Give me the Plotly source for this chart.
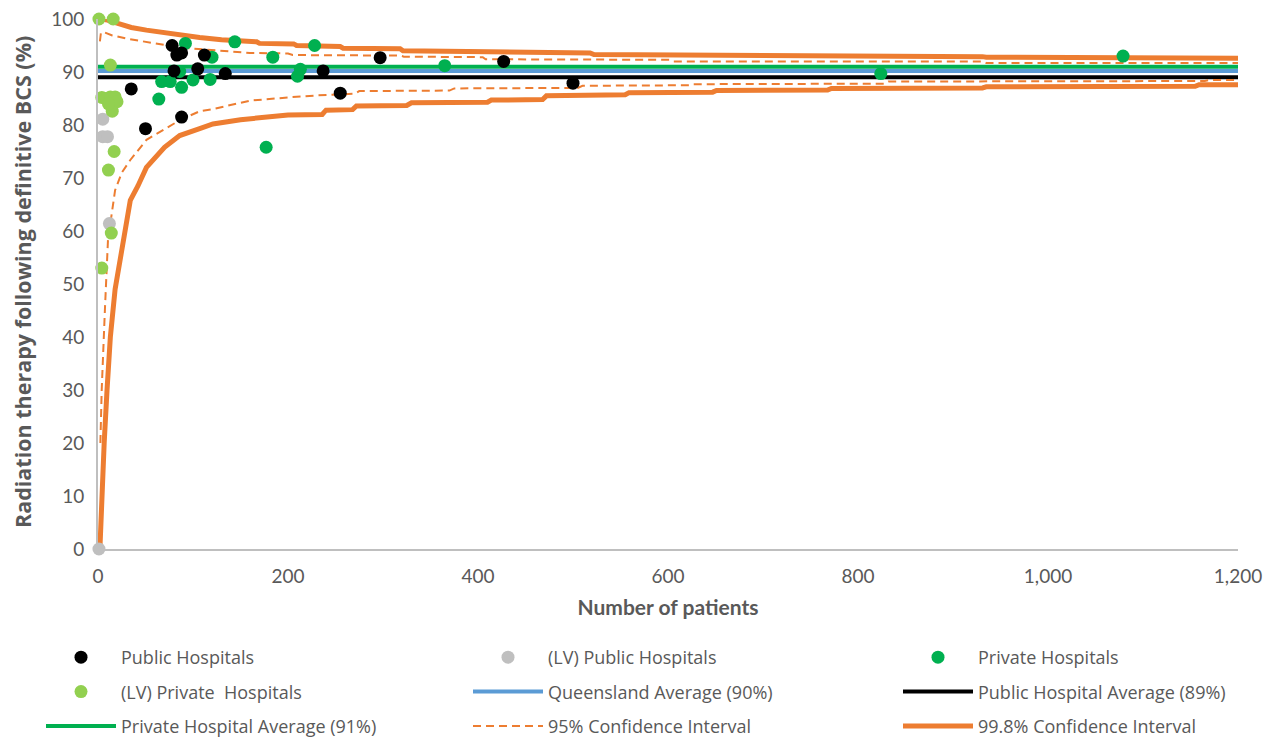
import plotly.graph_objects as go

# ---------------- data ----------------
public_n = [35, 50, 78, 83, 88, 80, 88, 105, 112, 134, 237, 255, 297, 427, 500]
public_v = [86.8, 79.3, 95.0, 93.2, 93.6, 90.2, 81.5, 90.6, 93.2, 89.7, 90.2, 86.0, 92.7, 92.0, 87.9]

lv_public_n = [1, 5, 5, 10, 12]
lv_public_v = [0.0, 81.1, 77.8, 77.8, 61.4]

private_n = [64, 67, 76, 86, 88, 92, 100, 118, 120, 144, 177, 184, 210, 213, 228, 365, 824, 1079]
private_v = [84.9, 88.2, 88.2, 90.1, 87.1, 95.4, 88.5, 88.6, 92.8, 95.7, 75.8, 92.8, 89.2, 90.5, 95.0, 91.2, 89.7, 93.0]

lv_private_n = [1, 16, 13, 4, 9, 13, 18, 20, 15, 11, 17, 11, 14, 4]
lv_private_v = [100, 100, 91.3, 85.2, 85.0, 85.3, 85.3, 84.4, 82.6, 84.0, 75.0, 71.5, 59.6, 53.0]

avg_n = [0, 1200]
qld_avg = [90.2, 90.2]
public_avg = [89.0, 89.0]
private_avg = [91.0, 91.0]

ci95_upper_n = [2, 3, 5, 15, 30, 51, 70, 86, 100, 118, 139, 160, 200, 205, 318, 322, 405, 408, 602, 606, 931, 935, 1200]
ci95_upper_v = [95.8, 97.3, 97.6, 96.9, 96.3, 95.6, 95.1, 94.6, 94.4, 94.2, 93.9, 93.6, 93.5, 93.2, 93.1, 92.9, 92.8, 92.4, 92.3, 92.0, 92.0, 91.7, 91.7]
ci95_lower_n = [2.5, 3.9, 7.4, 10.5, 18, 25, 34, 51, 86, 107, 121, 160, 200, 232, 270, 275, 370, 375, 505, 510, 623, 627, 828, 832, 1165, 1170, 1200]
ci95_lower_v = [20, 30, 45.7, 58.3, 67.7, 71.0, 73.4, 77.2, 80.9, 82.6, 83.0, 84.6, 85.2, 85.6, 85.9, 86.4, 86.5, 86.9, 87.0, 87.4, 87.5, 87.7, 87.8, 88.2, 88.3, 88.5, 88.5]

ci998_upper_n = [2, 10, 20, 35, 51, 70, 86, 107, 130, 150, 167, 170, 206, 209, 255, 258, 318, 321, 405, 408, 518, 522, 686, 690, 931, 935, 1081, 1085, 1200]
ci998_upper_v = [100, 99.8, 99.2, 98.4, 97.9, 97.4, 97.0, 96.5, 96.1, 95.8, 95.7, 95.4, 95.3, 95.0, 94.8, 94.5, 94.4, 94.0, 93.9, 93.7, 93.6, 93.3, 93.2, 93.0, 92.9, 92.8, 92.7, 92.6, 92.6]
ci998_lower_n = [2, 3, 4, 6.5, 9.5, 13, 18, 25, 34, 42, 51, 70, 86, 107, 121, 150, 177, 200, 236, 240, 268, 272, 325, 330, 410, 414, 468, 472, 555, 559, 647, 651, 768, 772, 931, 935, 1155, 1159, 1200]
ci998_lower_v = [0, 5, 11, 20, 30, 40, 49, 57, 65.8, 68.5, 72.0, 75.8, 78.0, 79.3, 80.2, 81.0, 81.5, 81.9, 82.0, 82.8, 82.9, 83.6, 83.7, 84.2, 84.3, 84.7, 84.8, 85.5, 85.7, 86.1, 86.2, 86.5, 86.6, 86.9, 87.0, 87.2, 87.3, 87.6, 87.6]

x_ticks = [0, 200, 400, 600, 800, 1000, 1200]
x_tick_labels = ["0", "200", "400", "600", "800", "1,000", "1,200"]
y_ticks = [0, 10, 20, 30, 40, 50, 60, 70, 80, 90, 100]

y_title = "Radiation therapy following definitive BCS (%)"
x_title = "Number of patients"

# ---------------- styling ----------------
ORANGE = "#ED7D31"
TXT = "#595959"
FONT = "Lato"
LFONT = "Open Sans"
MS = 13

fig = go.Figure()

# lines (drawn first, under the points)
fig.add_trace(go.Scatter(x=avg_n, y=qld_avg, mode="lines", name="Queensland Average (90%)",
                         line=dict(color="#5B9BD5", width=4), legend="legend2",
                         legendgroup="qld", legendrank=2))
fig.add_trace(go.Scatter(x=avg_n, y=public_avg, mode="lines", name="Public Hospital Average (89%)",
                         line=dict(color="#000000", width=4), legend="legend3",
                         legendgroup="pubavg", legendrank=2))
fig.add_trace(go.Scatter(x=avg_n, y=private_avg, mode="lines", name="Private Hospital Average (91%)",
                         line=dict(color="#00B050", width=4), legend="legend",
                         legendgroup="privavg", legendrank=3))
fig.add_trace(go.Scatter(x=ci95_upper_n, y=ci95_upper_v, mode="lines", name="95% Confidence Interval",
                         line=dict(color=ORANGE, width=2, dash="8px,5px"), legend="legend2",
                         legendgroup="ci95", legendrank=3))
fig.add_trace(go.Scatter(x=ci95_lower_n, y=ci95_lower_v, mode="lines", name="95% Confidence Interval",
                         line=dict(color=ORANGE, width=2, dash="8px,5px"), legend="legend2",
                         legendgroup="ci95", showlegend=False))
fig.add_trace(go.Scatter(x=ci998_upper_n, y=ci998_upper_v, mode="lines", name="99.8% Confidence Interval",
                         line=dict(color=ORANGE, width=5), legend="legend3",
                         legendgroup="ci998", legendrank=3))
fig.add_trace(go.Scatter(x=ci998_lower_n, y=ci998_lower_v, mode="lines", name="99.8% Confidence Interval",
                         line=dict(color=ORANGE, width=5), legend="legend3",
                         legendgroup="ci998", showlegend=False))

# points
fig.add_trace(go.Scatter(x=lv_public_n, y=lv_public_v, mode="markers", name="(LV) Public Hospitals",
                         marker=dict(color="#BFBFBF", size=MS), cliponaxis=False,
                         legend="legend2", legendgroup="lvpub", legendrank=1))
fig.add_trace(go.Scatter(x=private_n, y=private_v, mode="markers", name="Private Hospitals",
                         marker=dict(color="#00B050", size=MS), cliponaxis=False,
                         legend="legend3", legendgroup="priv", legendrank=1))
fig.add_trace(go.Scatter(x=public_n, y=public_v, mode="markers", name="Public Hospitals",
                         marker=dict(color="#000000", size=MS), cliponaxis=False,
                         legend="legend", legendgroup="pub", legendrank=1))
fig.add_trace(go.Scatter(x=lv_private_n, y=lv_private_v, mode="markers", name="(LV) Private  Hospitals",
                         marker=dict(color="#92D050", size=MS), cliponaxis=False,
                         legend="legend", legendgroup="lvpriv", legendrank=2))

leg_common = dict(orientation="v", xref="container", yref="container", xanchor="left",
                  yanchor="top", y=1 - 631 / 740, itemwidth=70, tracegroupgap=8,
                  font=dict(family=LFONT, size=18, color=TXT),
                  bgcolor="rgba(0,0,0,0)", traceorder="grouped")

fig.update_layout(
    width=1282, height=740,
    margin=dict(l=90, r=52, t=11, b=199, autoexpand=False),
    paper_bgcolor="white", plot_bgcolor="white",
    font=dict(family=FONT, color=TXT),
    showlegend=True,
    legend=dict(leg_common, x=33 / 1282),
    legend2=dict(leg_common, x=460 / 1282),
    legend3=dict(leg_common, x=890 / 1282),
    xaxis=dict(range=[0, 1200], tickvals=x_ticks, ticktext=x_tick_labels,
               showgrid=False, zeroline=False, showline=True, linecolor="#BFBFBF", linewidth=2,
               ticks="outside", ticklen=9, tickcolor="rgba(0,0,0,0)", ticklabeloverflow="allow",
               tickfont=dict(family=FONT, size=19, color=TXT),
               title=dict(text="<b>" + x_title + "</b>", font=dict(family=FONT, size=21, color=TXT),
                          standoff=15)),
    yaxis=dict(range=[0, 100], tickvals=y_ticks,
               showgrid=False, zeroline=False, showline=True, linecolor="#BFBFBF", linewidth=2,
               ticks="outside", ticklen=8, tickcolor="rgba(0,0,0,0)", ticklabeloverflow="allow",
               tickfont=dict(family=FONT, size=19, color=TXT)),
    annotations=[dict(text="<b>" + y_title + "</b>", xref="paper", yref="paper",
                      x=(14 - 90) / 1140, y=1 - (274 - 11) / 530, xanchor="center", yanchor="middle",
                      textangle=-90, showarrow=False, borderpad=0,
                      font=dict(family=LFONT, size=21.5, color=TXT))],
)

fig.write_html("out.html")
